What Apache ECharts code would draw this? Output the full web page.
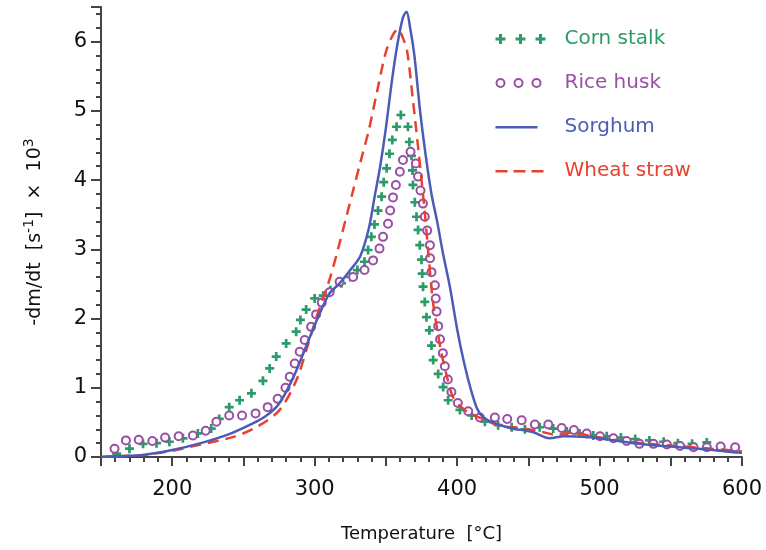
<!DOCTYPE html>
<html style="height: 100%">
<head>
    <meta charset="utf-8">
</head>
<body style="height: 100%; margin: 0; background: #fff">
    <div id="main" style="width: 766px; height: 550px"></div>
    <script src="https://cdn.jsdelivr.net/npm/echarts@6/dist/echarts.min.js"></script>
    <script type="text/javascript">

        // [temperature °C, -dm/dt x 10^3]
        var cornStalk = [
            [161, 0.05], [170, 0.12], [179.5, 0.19], [189, 0.2], [198, 0.22], [207.5, 0.27], [218, 0.34],
            [227.4, 0.41], [233, 0.55], [240, 0.72], [247.3, 0.82], [255.6, 0.92], [263.7, 1.1], [268.4, 1.28],
            [273, 1.45], [280, 1.64], [287, 1.81], [290, 1.98], [294, 2.13], [300, 2.29], [306, 2.33],
            [311, 2.41], [318.8, 2.51], [325, 2.6], [330, 2.7], [335, 2.82], [337.5, 2.99], [339.8, 3.18],
            [342, 3.36], [344.5, 3.56], [347, 3.76], [348.5, 3.97], [350.5, 4.17], [352.5, 4.38], [354.5, 4.58],
            [357.5, 4.77], [360.5, 4.94], [365.5, 4.77], [366.5, 4.55], [368, 4.35], [368.7, 4.14], [369, 3.93],
            [370.3, 3.68], [371.5, 3.47], [372.6, 3.28], [373.8, 3.06], [375, 2.85], [375.5, 2.65], [376.1, 2.46],
            [377.3, 2.24], [378.5, 2.02], [380.5, 1.83], [382, 1.61], [383.2, 1.4], [386.7, 1.2], [390.2, 1.01],
            [393.7, 0.82], [402, 0.68], [410.2, 0.6], [419.5, 0.51], [428.8, 0.46], [438.3, 0.43], [447.6, 0.4],
            [458, 0.43], [467.5, 0.41], [477, 0.37], [486, 0.34], [495.6, 0.31], [505, 0.3], [515, 0.28],
            [525, 0.26], [535, 0.24], [545, 0.22], [555, 0.2], [565, 0.19], [575.3, 0.21], [585, 0.15], [595, 0.12]
        ];

        var riceHusk = [
            [159.5, 0.12], [167.5, 0.24], [176.5, 0.25], [186, 0.23], [195, 0.28], [204.5, 0.3], [214.5, 0.31],
            [223.5, 0.38], [231, 0.51], [240, 0.6], [249, 0.6], [258.5, 0.63], [267, 0.72], [274, 0.84],
            [279.5, 1.0], [282.5, 1.16], [286, 1.35], [289.5, 1.52], [293, 1.69], [297.5, 1.88], [301, 2.06],
            [305, 2.23], [310.5, 2.38], [317.5, 2.53], [327, 2.6], [335, 2.7], [341, 2.84], [345.5, 3.01],
            [348, 3.18], [351.5, 3.37], [353, 3.56], [355, 3.75], [357, 3.93], [359.8, 4.12], [362, 4.29],
            [367.3, 4.41], [371, 4.24], [372.6, 4.05], [374.3, 3.85], [376, 3.66], [377.3, 3.47], [379, 3.27],
            [380.9, 3.06], [381, 2.87], [382, 2.67], [384.4, 2.48], [385, 2.29], [385.6, 2.1], [386.7, 1.89],
            [388, 1.7], [390, 1.5], [391.4, 1.31], [393.5, 1.12], [396, 0.94], [400.5, 0.78], [407.8, 0.66],
            [416, 0.57], [426.5, 0.57], [435.2, 0.55], [445.3, 0.53], [454.6, 0.47], [464, 0.47], [473.4, 0.42],
            [482, 0.39], [491, 0.34], [500.3, 0.3], [509.7, 0.27], [519, 0.23], [528, 0.19], [537.8, 0.19],
            [547.2, 0.18], [556.5, 0.16], [566, 0.14], [575.3, 0.14], [585, 0.15], [595.2, 0.14]
        ];

        var sorghum = [
            [150, 0], [160, 0.01], [180, 0.03], [200, 0.1], [220, 0.2], [240, 0.33], [255, 0.47], [265, 0.58],
            [275, 0.77], [285, 1.15], [295, 1.65], [302, 2.0], [310, 2.35], [318, 2.52], [325, 2.7], [332, 2.9],
            [338, 3.3], [342, 3.75], [346, 4.2], [350, 4.75], [354, 5.4], [358, 5.95], [362, 6.35], [364.5, 6.43],
            [367, 6.2], [370, 5.8], [374, 5.0], [378, 4.35], [382, 3.8], [386, 3.4], [390, 2.95], [395, 2.45],
            [400, 1.85], [405, 1.35], [410, 0.95], [414, 0.7], [418, 0.58], [425, 0.5], [437, 0.42], [453, 0.36],
            [465, 0.27], [475, 0.3], [491, 0.29], [510, 0.24], [524, 0.2], [550, 0.15], [575, 0.11], [594, 0.07],
            [600, 0.06]
        ];

        var wheatStraw = [
            [150, 0], [160, 0.01], [180, 0.03], [200, 0.09], [220, 0.18], [243, 0.29], [259, 0.43], [275, 0.67],
            [287, 1.1], [295, 1.6], [301, 2.0], [306, 2.3], [311, 2.6], [317, 3.05], [322, 3.45], [327, 3.85],
            [332, 4.25], [338, 4.72], [343, 5.2], [350, 5.85], [355, 6.1], [358.5, 6.18], [362, 6.05], [365, 5.85],
            [369, 5.15], [373, 4.4], [377, 3.6], [380, 2.9], [383, 2.25], [386, 1.85], [389, 1.5], [393, 1.15],
            [397, 0.87], [403, 0.72], [409, 0.63], [418, 0.55], [430, 0.45], [445, 0.42], [460, 0.36], [470, 0.32],
            [480, 0.35], [495, 0.3], [510, 0.25], [530, 0.2], [560, 0.15], [590, 0.1], [600, 0.08]
        ];

        var GREEN = '#2b9b69';
        var PURPLE = '#9a4fa6';
        var BLUE = '#4a5cb6';
        var RED = '#e8412f';

        var plusPath = 'path://M3.5,0H6.5V3.5H10V6.5H6.5V10H3.5V6.5H0V3.5H3.5Z';

        var chart = echarts.init(document.getElementById('main'));

        var axisFont = 'DejaVu Sans';

        chart.setOption({
            animation: false,
            grid: { left: 101, right: 24, top: 7, bottom: 93 },
            legend: {
                orient: 'vertical',
                left: 488,
                top: 24,
                itemWidth: 50,
                itemHeight: 12,
                itemGap: 24,
                textStyle: { fontFamily: axisFont, fontSize: 20, padding: [0, 0, 0, 14] },
                data: [
                    {
                        name: 'Corn stalk',
                        icon: 'path://M3.5,0H6.5V3.5H10V6.5H6.5V10H3.5V6.5H0V3.5H3.5Z' +
                            'M23.5,0H26.5V3.5H30V6.5H26.5V10H23.5V6.5H20V3.5H23.5Z' +
                            'M43.5,0H46.5V3.5H50V6.5H46.5V10H43.5V6.5H40V3.5H43.5Z',
                        itemStyle: { color: GREEN, borderWidth: 0 },
                        textStyle: { color: GREEN }
                    },
                    {
                        name: 'Rice husk',
                        icon: 'path://M1,5a4,4 0 1,0 8,0a4,4 0 1,0 -8,0' +
                            'M19,5a4,4 0 1,0 8,0a4,4 0 1,0 -8,0' +
                            'M37,5a4,4 0 1,0 8,0a4,4 0 1,0 -8,0M0,0M50,10',
                        itemStyle: { color: 'none', borderColor: PURPLE, borderWidth: 2 },
                        textStyle: { color: PURPLE }
                    },
                    {
                        name: 'Sorghum',
                        icon: 'path://M0,4H42V6.5H0ZM0,0M50,10',
                        itemStyle: { color: BLUE, borderWidth: 0 },
                        textStyle: { color: BLUE }
                    },
                    {
                        name: 'Wheat straw',
                        icon: 'path://M0,4H12V6.5H0ZM18,4H30V6.5H18ZM36,4H48V6.5H36ZM0,0M50,10',
                        itemStyle: { color: RED, borderWidth: 0 },
                        textStyle: { color: RED }
                    }
                ]
            },
            xAxis: {
                type: 'value',
                min: 150,
                max: 600,
                interval: 50,
                name: 'Temperature  [°C]',
                nameLocation: 'middle',
                nameGap: 68,
                nameTextStyle: { fontFamily: axisFont, fontSize: 18, color: '#111' },
                axisLine: { show: true, lineStyle: { color: '#444', width: 2 } },
                axisTick: { show: true, length: 9, lineStyle: { color: '#444', width: 2 } },
                minorTick: { show: true, splitNumber: 5, length: 5, lineStyle: { color: '#444', width: 2 } },
                axisLabel: {
                    margin: 22,
                    fontFamily: axisFont,
                    fontSize: 21,
                    color: '#111',
                    formatter: function (v) { return v % 100 === 0 ? String(v) : ''; }
                },
                splitLine: { show: false }
            },
            yAxis: [
                {
                    type: 'value',
                    min: 0,
                    max: 6.5,
                    interval: 0.2,
                    axisLine: { show: true, lineStyle: { color: '#444', width: 2 } },
                    axisTick: { show: true, length: 5, lineStyle: { color: '#444', width: 2 } },
                    axisLabel: { show: false },
                    splitLine: { show: false }
                },
                {
                    type: 'value',
                    position: 'left',
                    min: 0,
                    max: 6.5,
                    interval: 1,
                    name: '-dm/dt  [s{sup|-1}]  ×  10{sup|3}',
                    nameLocation: 'middle',
                    nameGap: 52,
                    nameTextStyle: {
                        fontFamily: axisFont,
                        fontSize: 19,
                        color: '#111',
                        rich: {
                            sup: { fontFamily: axisFont, fontSize: 14, color: '#111', padding: [0, 0, 13, 0] }
                        }
                    },
                    axisLine: { show: false },
                    axisTick: { show: true, length: 10, lineStyle: { color: '#444', width: 2 } },
                    axisLabel: {
                        margin: 14,
                        fontFamily: axisFont,
                        fontSize: 21,
                        color: '#111',
                        formatter: function (v) { return Number.isInteger(v) ? String(v) : ''; }
                    },
                    splitLine: { show: false }
                }
            ],
            series: [
                {
                    name: 'Wheat straw',
                    type: 'line',
                    data: wheatStraw,
                    smooth: 0.3,
                    showSymbol: false,
                    lineStyle: { color: RED, width: 2.5, type: [11, 7] },
                    itemStyle: { color: RED }
                },
                {
                    name: 'Sorghum',
                    type: 'line',
                    data: sorghum,
                    smooth: 0.3,
                    showSymbol: false,
                    lineStyle: { color: BLUE, width: 2.5 },
                    itemStyle: { color: BLUE }
                },
                {
                    name: 'Corn stalk',
                    type: 'scatter',
                    data: cornStalk,
                    symbol: plusPath,
                    symbolSize: 9,
                    itemStyle: { color: GREEN, opacity: 1 }
                },
                {
                    name: 'Rice husk',
                    type: 'scatter',
                    data: riceHusk,
                    symbol: 'emptyCircle',
                    symbolSize: 8,
                    itemStyle: { color: PURPLE, borderWidth: 2.2, opacity: 1 }
                }
            ]
        });

    </script>
</body>
</html>
